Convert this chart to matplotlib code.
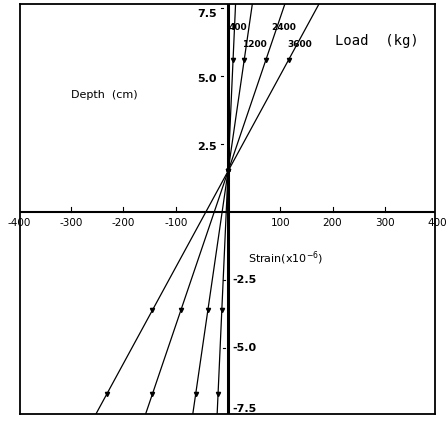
import numpy as np
import matplotlib
matplotlib.use('Agg')
import matplotlib.pyplot as plt

# measured depths (cm) and strain (x10^-6) for each load
depths = [5.6, 1.5, -3.6, -6.7]
loads = ['400', '1200', '2400', '3600']
strain_400 = [9.7, 0, -12, -19]
strain_1200 = [31, 0, -38.5, -62]
strain_2400 = [72.5, 0, -90, -145]
strain_3600 = [116, 0, -145, -232]

xticks = [-400, -300, -200, -100, 100, 200, 300, 400]
yticks_pos = [2.5, 5.0, 7.5]
yticks_neg = [-2.5, -5.0, -7.5]

fig = plt.figure(figsize=(4.46, 4.21), dpi=100)
ax = fig.add_axes([20/446, 7/421, 415/446, 410/421])
ylo, yhi = -7.42, 7.65
ax.set_xlim(-398, 396)
ax.set_ylim(ylo, yhi)
ax.set_xticks([])
ax.set_yticks([])
for s in ax.spines.values():
    s.set_linewidth(1.3)

# axes through origin
ax.axhline(0, color='black', lw=1.5)
ax.axvline(0, color='black', lw=2.2)

# fitted lines through the measured points, extended to the frame
yy = np.array([ylo, yhi])
for st in [strain_400, strain_1200, strain_2400, strain_3600]:
    a, b = np.polyfit(depths, st, 1)
    ax.plot(a*yy + b, yy, color='black', lw=0.9)
    ax.plot(st, depths, 'v', color='black', ms=3)

# tick marks and tick labels
for x in xticks:
    ax.plot([x, x], [0, 0.18], color='black', lw=0.8)
    ax.text(x, -0.22, str(x), ha='center', va='top', fontsize=7.5,
            clip_on=False)
for y in yticks_pos:
    ax.plot([-14, -10], [y, y], color='black', lw=0.8)
    ax.text(-22, min(y - 0.1, 7.3), str(y), ha='right', va='center',
            fontsize=8, fontweight='bold')
for y in yticks_neg:
    ax.plot([-9, -5], [y, y], color='black', lw=0.8)
    ax.text(8, max(y, -7.25), str(y), ha='left', va='center',
            fontsize=8, fontweight='bold')

# text labels
ax.text(-236, 4.3, 'Depth  (cm)', ha='center', va='center', fontsize=8)
ax.text(110, -1.7, 'Strain(x10$^{-6}$)', ha='center', va='center', fontsize=8)
ax.text(285, 6.3, 'Load  (kg)', ha='center', va='center', fontsize=10,
        family='DejaVu Sans Mono')
ax.text(19, 6.8, loads[0], ha='center', va='center', fontsize=6.5, fontweight='bold')
ax.text(51, 6.17, loads[1], ha='center', va='center', fontsize=6.5, fontweight='bold')
ax.text(106, 6.8, loads[2], ha='center', va='center', fontsize=6.5, fontweight='bold')
ax.text(138, 6.17, loads[3], ha='center', va='center', fontsize=6.5, fontweight='bold')

fig.savefig('out.png', dpi=100)
